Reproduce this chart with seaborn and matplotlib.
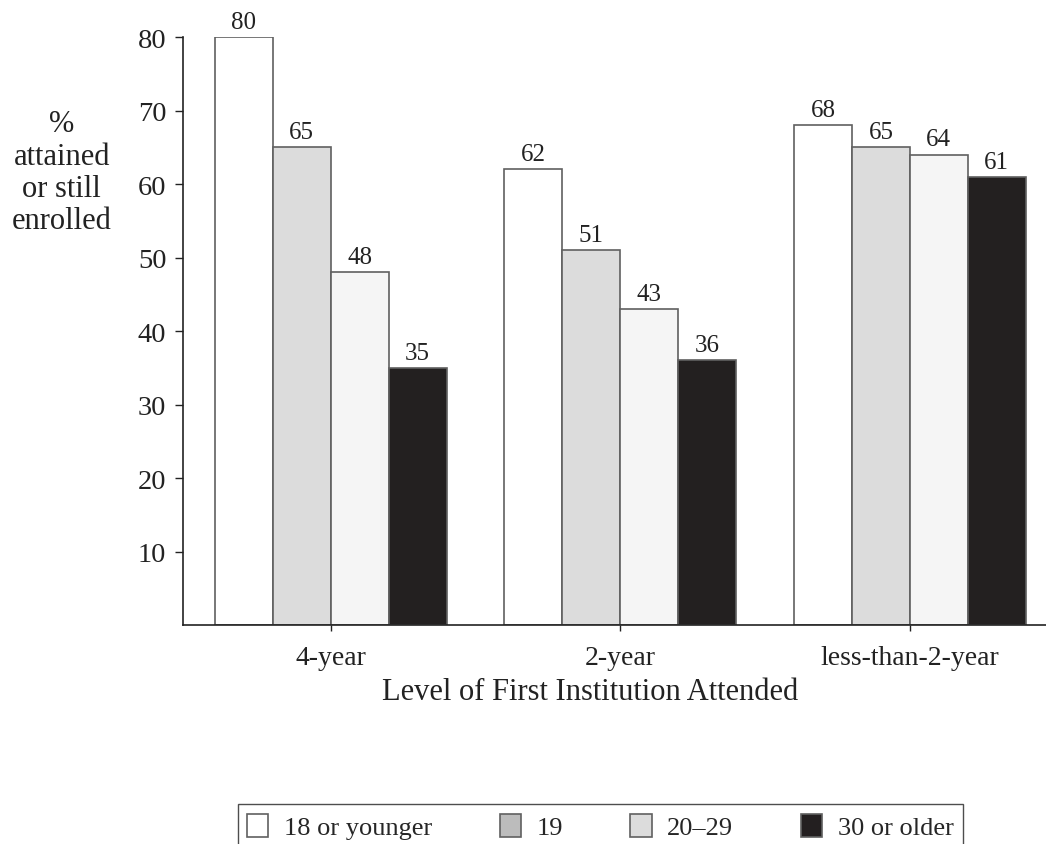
import pandas as pd
import seaborn as sns
import matplotlib.pyplot as plt

# Datos
niveles = ["4-year", "2-year", "less-than-2-year"]
edades = ["18 or younger", "19", "20\u201329", "30 or older"]
v_18 = [80, 62, 68]
v_19 = [65, 51, 65]
v_20 = [48, 43, 64]
v_30 = [35, 36, 61]
colores = ["#ffffff", "#dcdcdc", "#f5f5f5", "#231f20"]
colores_leyenda = ["#ffffff", "#bcbcbc", "#dcdcdc", "#231f20"]

filas = []
for edad, vals in zip(edades, [v_18, v_19, v_20, v_30]):
    for nivel, v in zip(niveles, vals):
        filas.append({"nivel": nivel, "edad": edad, "pct": v})
df = pd.DataFrame(filas)

sns.set_style("white")
plt.rcParams['font.family'] = ['Liberation Serif', 'DejaVu Serif']

fig = plt.figure(figsize=(10.46, 8.45), dpi=100)
ax = fig.add_axes([0.175, 0.259, 0.825, 0.696])

sns.barplot(data=df, x="nivel", y="pct", hue="edad", order=niveles,
            hue_order=edades, palette=colores, width=0.8,
            edgecolor="#606060", linewidth=1.2, ax=ax)

for c in ax.containers:
    ax.bar_label(c, fontsize=18, padding=3, color="#222222")

ax.set_ylim(0, 80)
ax.set_xlim(-0.51, 2.47)
ax.set_yticks(range(10, 81, 10))
ax.tick_params(axis="y", labelsize=20.5, length=6, width=1, direction="out",
               left=True, pad=6, colors="#222222")
ax.tick_params(axis="x", labelsize=20, length=4, width=1, direction="out",
               bottom=True, pad=10, colors="#222222")
ax.set_xlabel("")
ax.set_ylabel("")
for s in ["top", "right"]:
    ax.spines[s].set_visible(False)
for s in ["left", "bottom"]:
    ax.spines[s].set_color("#222222")
    ax.spines[s].set_linewidth(1.2)

fig.text(0.059, 0.795, "%\nattained\nor still\nenrolled", ha="center",
         va="center", fontsize=22, linespacing=1.15, color="#222222")
fig.text(0.564, 0.181, "Level of First Institution Attended", ha="center",
         va="center", fontsize=22, color="#222222")

handles, labels = ax.get_legend_handles_labels()
ax.get_legend().remove()
leg = fig.legend(handles, labels, loc="upper center", ncol=4,
                 bbox_to_anchor=(0.574, 0.047), fontsize=19, frameon=True,
                 fancybox=False, edgecolor="#222222", handlelength=0.8,
                 handleheight=1.0, handletextpad=0.6, columnspacing=2.55,
                 borderpad=0.35, borderaxespad=0)
leg.get_frame().set_linewidth(1.0)
for h, col in zip(leg.legend_handles, colores_leyenda):
    h.set_facecolor(col)

fig.savefig("out.png", dpi=100)
